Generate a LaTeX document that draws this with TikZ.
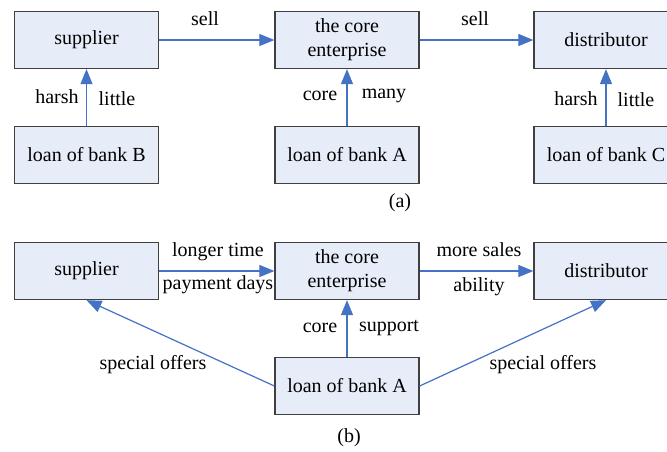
\documentclass[tikz,border=0pt]{standalone}
\usepackage{fontspec}
\setmainfont{Liberation Serif}
\usetikzlibrary{arrows.meta}
\definecolor{boxfill}{HTML}{E7EDF8}
\definecolor{boxline}{HTML}{404040}
\definecolor{arrowblue}{HTML}{4472C4}
\begin{document}
\begin{tikzpicture}[x=1pt,y=-1pt,
  box/.style={draw=boxline,line width=1.3pt,fill=boxfill,rectangle,minimum width=144pt,minimum height=57pt,inner sep=0pt,align=center,font=\fontsize{20}{24}\selectfont},
  lbl/.style={font=\fontsize{20}{23}\selectfont,inner sep=0pt},
  conn/.style={draw=arrowblue,line width=1.2pt,-{Triangle[length=15pt,width=12pt]}}]
\clip (0,0) rectangle (667,451);
\fill[white] (0,0) rectangle (667,451);
% (a)
\node[box] (sa) at (86.5,40) {supplier};
\node[box] (ca) at (347,40) {the core\\enterprise};
\node[box] (da) at (606,40) {distributor};
\node[box] (lb) at (86.5,155) {loan of bank B};
\node[box] (la) at (347,155) {loan of bank A};
\node[box] (lc) at (606,155) {loan of bank C};
\draw[conn] (sa) -- (ca);
\draw[conn] (ca) -- (da);
\draw[conn] (lb) -- (sa);
\draw[conn] (la) -- (ca);
\draw[conn] (lc) -- (da);
\node[lbl] (t1) at (205,19) {sell};
\node[lbl] (t2) at (475,19) {sell};
\node[lbl] (t3) at (57,97) {harsh};
\node[lbl] (t4) at (117,99) {little};
\node[lbl] (t5) at (320,96) {core};
\node[lbl] (t6) at (384,96) {many};
\node[lbl] (t7) at (576,99) {harsh};
\node[lbl] (t8) at (636,100) {little};
\node[lbl] (capa) at (400,203) {(a)};
% (b)
\node[box] (sb) at (86.5,271) {supplier};
\node[box] (cb) at (347,271) {the core\\enterprise};
\node[box] (db) at (606,271) {distributor};
\node[box] (lab) at (347,386) {loan of bank A};
\draw[conn] (sb) -- (cb);
\draw[conn] (cb) -- (db);
\draw[conn] (lab) -- (cb);
\draw[conn] (lab.west) -- (sb.south);
\draw[conn] (lab.east) -- (db.south);
\node[lbl] (u1) at (218,252) {longer time};
\node[lbl] (u2) at (218,285) {payment days};
\node[lbl] (u3) at (479,250) {more sales};
\node[lbl] (u4) at (479,287) {ability};
\node[lbl] (u5) at (320,328) {core};
\node[lbl] (u6) at (389,328) {support};
\node[lbl] (u7) at (153,365) {special offers};
\node[lbl] (u8) at (543,365) {special offers};
\node[lbl] (capb) at (349,438) {(b)};
\end{tikzpicture}
\end{document}
